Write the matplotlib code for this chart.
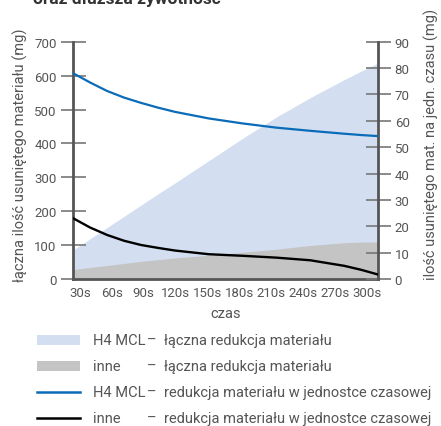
import matplotlib.pyplot as plt
import numpy as np
from matplotlib.lines import Line2D
from matplotlib.patches import Rectangle

plt.rcParams['font.family'] = ['Roboto', 'DejaVu Sans']

# time axis (s)
czas = [30, 45, 60, 75, 90, 105, 120, 150, 180, 210, 240, 270, 285, 300]
tick_labels = ['30s', '60s', '90s', '120s', '150s', '180s', '210s', '240s', '270s', '300s']

# total removed material (mg) - left axis
h4mcl_total = [86, 119, 152, 185, 218, 251, 283, 349, 415, 478, 535, 588, 613, 637]
inne_total = [28, 34, 40, 46, 52, 57, 62, 70, 79, 88, 99, 107, 109, 109]

# removed material per time unit (mg) - right axis
h4mcl_rate = [78.0, 74.5, 71.3, 68.8, 66.8, 65.0, 63.4, 60.9, 59.0, 57.4, 56.2, 55.1, 54.6, 54.2]
inne_rate = [23.0, 19.5, 16.7, 14.5, 12.9, 11.8, 10.8, 9.4, 8.8, 8.1, 7.1, 5.0, 3.5, 1.7]

light_blue = '#d3dff1'
grey = '#c4c4c4'
blue = '#0a6cb8'
spine_col = '#555555'
txt_col = '#555555'

W, H = 441, 427
fig = plt.figure(figsize=(W / 100, H / 100), dpi=100)
ax = fig.add_axes([73.3 / W, 1 - 280 / H, (378 - 73.3) / W, (280 - 42.7) / H])

ax.fill_between(czas, 0, h4mcl_total, color=light_blue, lw=0, zorder=1)
ax.fill_between(czas, 0, inne_total, color=grey, lw=0, zorder=2)
ax.set_xlim(30, 300)
ax.set_ylim(0, 700)
ax.set_yticks(np.arange(0, 701, 100))

ax2 = ax.twinx()
ax2.plot(czas, h4mcl_rate, color=blue, lw=1.6, zorder=3)
ax2.plot(czas, inne_rate, color='black', lw=1.7, zorder=3)
ax2.set_ylim(0, 90)
ax2.set_yticks(np.arange(0, 91, 10))

ax.set_xticks(np.linspace(36, 290, 10))
ax.set_xticklabels(tick_labels)

for a in (ax, ax2):
    a.spines['top'].set_visible(False)
    for s in ('left', 'right', 'bottom'):
        a.spines[s].set_color(spine_col)
        a.spines[s].set_linewidth(2)
    a.tick_params(axis='y', direction='inout', length=18, width=1.2, color='#777777',
                  labelsize=9.5, labelcolor=txt_col, pad=3)
ax.tick_params(axis='x', length=0, labelsize=9.5, labelcolor=txt_col, pad=5)
ax.spines['right'].set_visible(False)
ax2.spines['left'].set_visible(False)
ax2.spines['bottom'].set_visible(False)

ax.set_xlabel('czas', fontsize=10.5, color=txt_col, labelpad=5)

fig.text(20 / W, 1 - 155 / H, 'łączna ilość usuniętego materiału (mg)', rotation=90,
         ha='center', va='center', fontsize=10.5, color=txt_col)
fig.text(431 / W, 1 - 144 / H, 'ilość usuniętego mat. na jedn. czasu (mg)', rotation=90,
         ha='center', va='center', fontsize=10.5, color=txt_col)

fig.text(33 / W, 1 - 4 / H, 'oraz dłuższa żywotność', ha='left', va='baseline',
         fontsize=12.5, fontweight='bold', color='#333333')

# legend
rows = [
    ('patch', light_blue, 'H4 MCL', 'łączna redukcja materiału'),
    ('patch', grey, 'inne', 'łączna redukcja materiału'),
    ('line', blue, 'H4 MCL', 'redukcja materiału w jednostce czasowej'),
    ('line', 'black', 'inne', 'redukcja materiału w jednostce czasowej'),
]
row_y = [341, 367, 393, 419]
for (kind, col, name, desc), yp in zip(rows, row_y):
    y = 1 - yp / H
    if kind == 'patch':
        fig.add_artist(Rectangle((37 / W, y - 5 / H), 43 / W, 10 / H,
                                 transform=fig.transFigure, color=col, lw=0))
    else:
        fig.add_artist(Line2D([37 / W, 80 / W], [y, y], transform=fig.transFigure,
                              color=col, lw=1.8))
    fig.text(93 / W, y, name, ha='left', va='center', fontsize=10.5, color=txt_col)
    fig.text(147 / W, y, '–', ha='left', va='center', fontsize=10.5, color=txt_col)
    fig.text(164 / W, y, desc, ha='left', va='center', fontsize=10.5, color=txt_col)

fig.savefig('out.png', dpi=100)
